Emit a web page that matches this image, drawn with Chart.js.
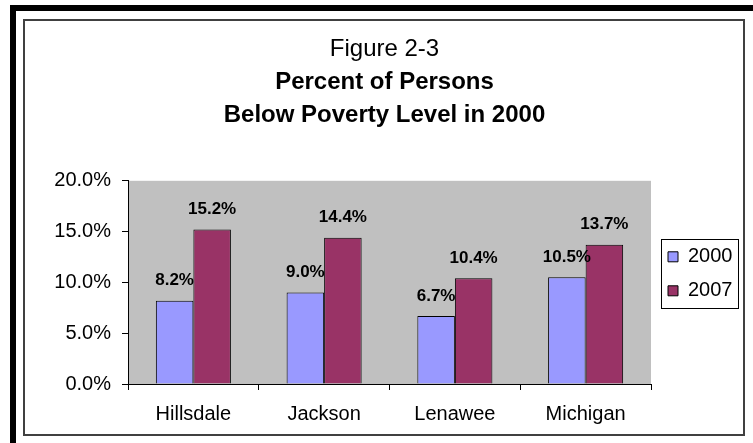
<!DOCTYPE html>
<html>
<head>
<meta charset="utf-8">
<script src="https://cdn.jsdelivr.net/npm/chart.js@4.4.1/dist/chart.umd.min.js"></script>
<style>
  html, body { margin: 0; padding: 0; background: #ffffff; }
  canvas { display: block; }
</style>
</head>
<body>
<canvas id="c" width="753" height="443"></canvas>
<script>
// ---- data ----
const categories = ['Hillsdale', 'Jackson', 'Lenawee', 'Michigan'];
const seriesNames = ['2000', '2007'];
const values2000 = [8.2, 9.0, 6.7, 10.5];
const values2007 = [15.2, 14.4, 10.4, 13.7];
const yMin = 0, yMax = 20, yStep = 5;
const titleLine = 'Figure 2-3';
const subtitleLines = ['Percent of Persons', 'Below Poverty Level in 2000'];

const FONT = "'Liberation Sans', Arial, Helvetica, sans-serif";
Chart.defaults.font.family = FONT;
Chart.defaults.color = '#000000';

const pct = v => v.toFixed(1) + '%';

const framePlugin = {
  id: 'frame',
  beforeDraw(chart) {
    const ctx = chart.ctx;
    const W = chart.width, H = chart.height;
    ctx.save();
    ctx.fillStyle = '#ffffff';
    ctx.fillRect(0, 0, W, H);
    // thick black outer border (left and top)
    ctx.fillStyle = '#000000';
    ctx.fillRect(10, 5, 6, H - 5);
    ctx.fillRect(10, 5, W - 10, 6);
    // inner chart frame
    ctx.strokeStyle = '#404040';
    ctx.lineWidth = 2;
    ctx.strokeRect(24, 20, 720, 415);
    // plot background
    const a = chart.chartArea;
    ctx.fillStyle = '#C0C0C0';
    ctx.fillRect(a.left, a.top, a.right - a.left, a.bottom - a.top);
    ctx.restore();
  },
  afterLayout(chart) {
    const lg = chart.legend;
    const a = chart.chartArea;
    lg.left = a.right + 3;
    lg.right = lg.left + 80;
    lg.width = 80;
    lg.top = a.top + 52;
    lg.bottom = lg.top + 120;
    lg.height = 120;
  },
  afterDraw(chart) {
    const lg = chart.legend;
    const ctx = chart.ctx;
    ctx.save();
    ctx.strokeStyle = '#000000';
    ctx.lineWidth = 1;
    ctx.strokeRect(Math.round(lg.left + 7) + 0.5, Math.round(lg.top + 6) + 0.5, 77, 69);
    ctx.restore();
  }
};

const valueLabels = {
  id: 'valueLabels',
  afterDatasetsDraw(chart) {
    const ctx = chart.ctx;
    ctx.save();
    ctx.font = 'bold 17px ' + FONT;
    ctx.fillStyle = '#000000';
    ctx.textAlign = 'center';
    ctx.textBaseline = 'middle';
    chart.data.datasets.forEach((ds, i) => {
      const meta = chart.getDatasetMeta(i);
      meta.data.forEach((el, j) => {
        ctx.fillText(pct(ds.data[j]), el.x, el.y - 20);
      });
    });
    ctx.restore();
  }
};

new Chart(document.getElementById('c'), {
  type: 'bar',
  data: {
    labels: categories,
    datasets: [
      { label: seriesNames[0], data: values2000, backgroundColor: '#9999FF', borderColor: '#000000', borderWidth: 1 },
      { label: seriesNames[1], data: values2007, backgroundColor: '#993366', borderColor: '#000000', borderWidth: 1 }
    ]
  },
  options: {
    responsive: false,
    animation: false,
    devicePixelRatio: 1,
    layout: { padding: { left: 38, right: 22, top: 35, bottom: 9 } },
    datasets: { bar: { categoryPercentage: 0.574, barPercentage: 1.0 } },
    plugins: {
      title: {
        display: true,
        text: titleLine,
        font: { size: 24, weight: 'normal' },
        color: '#000000',
        padding: { top: 0, bottom: 2 }
      },
      subtitle: {
        display: true,
        text: subtitleLines,
        font: { size: 24, weight: 'bold', lineHeight: '33px' },
        color: '#000000',
        padding: { top: 0, bottom: 49 }
      },
      legend: {
        display: true,
        position: 'right',
        align: 'start',
        maxWidth: 80,
        labels: {
          boxWidth: 10,
          boxHeight: 10,
          padding: 14,
          font: { size: 20 },
          color: '#000000'
        }
      },
      tooltip: { enabled: false }
    },
    scales: {
      x: {
        grid: { display: true, drawOnChartArea: false, drawTicks: true, tickLength: 6, color: '#000000', offset: true },
        border: { display: true, color: '#000000', width: 1 },
        ticks: { font: { size: 20 }, color: '#000000', padding: 12, maxRotation: 0 },
        afterFit(s) { s.height = 50; }
      },
      y: {
        min: yMin, max: yMax,
        grid: { display: true, drawOnChartArea: false, drawTicks: true, tickLength: 6, color: '#000000' },
        border: { display: true, color: '#000000', width: 1 },
        ticks: { stepSize: yStep, font: { size: 20 }, color: '#000000', padding: 11, callback: v => pct(v) },
        afterFit(s) { s.width = 90; }
      }
    }
  },
  plugins: [framePlugin, valueLabels]
});
</script>
</body>
</html>
